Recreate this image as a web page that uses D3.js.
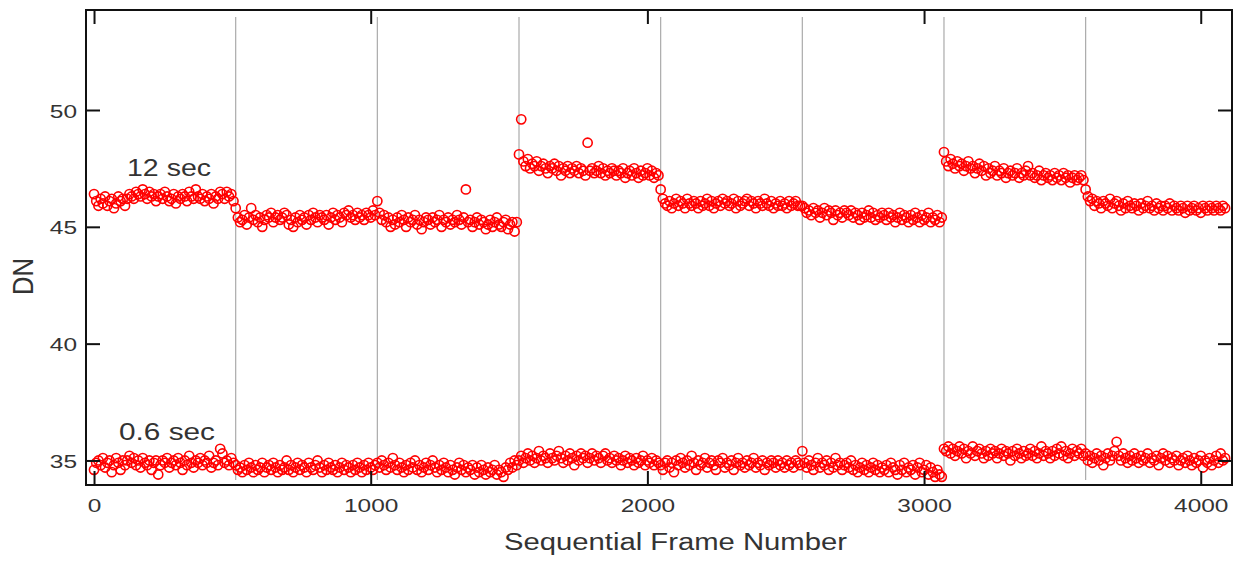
<!DOCTYPE html>
<html>
<head>
<meta charset="utf-8">
<script src="https://cdn.jsdelivr.net/npm/d3@7"></script>
<style>
  body { margin: 0; background: #fff; }
  svg { display: block; }
  text { font-family: "Liberation Sans", Arial, sans-serif; fill: #333; }
</style>
</head>
<body>
<svg class="svg" width="1234" height="563"></svg>
<script>
// frames come in blocks of 512 (one point every 8 frames)
const segLength = 512;
const segStarts = [0, 512, 1024, 1536, 2048, 2560, 3072, 3584];
const xTicks = [0, 1000, 2000, 3000, 4000];
const yTicks = [35, 40, 45, 50];

// 12 sec exposure, one array per 512-frame block
const dn12sec = [
  [46.4,46.1,45.9,46.2,46.0,46.3,45.9,46.1,46.2,45.8,46.0,46.3,46.1,46.2,45.9,46.2,46.4,46.3,46.2,46.5,46.4,46.3,46.6,46.4,46.2,46.5,46.3,46.4,46.1,46.3,46.4,46.2,46.5,46.3,46.1,46.2,46.4,46.0,46.3,46.2,46.4,46.3,46.1,46.5,46.3,46.2,46.6,46.3,46.2,46.4,46.1,46.3,46.2,46.4,46.0,46.3,46.2,46.5,46.4,46.2,46.5,46.3,46.4,46.1],
  [45.8,45.4,45.2,45.3,45.5,45.1,45.4,45.8,45.3,45.5,45.2,45.4,45.0,45.3,45.5,45.4,45.6,45.2,45.4,45.5,45.3,45.4,45.6,45.5,45.1,45.3,45.0,45.4,45.2,45.5,45.3,45.4,45.1,45.5,45.3,45.6,45.4,45.2,45.5,45.4,45.3,45.5,45.1,45.4,45.6,45.3,45.5,45.4,45.2,45.6,45.5,45.7,45.4,45.5,45.3,45.6,45.4,45.5,45.3,45.6,45.5,45.4,45.7,45.5],
  [46.1,45.6,45.3,45.5,45.2,45.4,45.0,45.3,45.1,45.4,45.2,45.5,45.3,45.0,45.4,45.2,45.3,45.5,45.1,45.3,44.9,45.2,45.4,45.3,45.1,45.4,45.2,45.3,45.5,45.0,45.3,45.2,45.4,45.1,45.3,45.2,45.5,45.3,45.1,45.4,46.6,45.2,45.3,45.0,45.2,45.4,45.1,45.3,45.2,44.9,45.1,45.3,45.0,45.2,45.4,45.1,45.0,45.2,45.3,44.9,45.1,45.2,44.8,45.2],
  [48.1,49.6,47.8,47.6,47.9,47.5,47.7,47.6,47.8,47.4,47.6,47.7,47.5,47.3,47.6,47.5,47.7,47.4,47.6,47.2,47.5,47.4,47.6,47.3,47.5,47.4,47.6,47.3,47.5,47.4,47.2,48.6,47.4,47.5,47.3,47.4,47.6,47.3,47.5,47.2,47.4,47.3,47.5,47.4,47.2,47.4,47.3,47.5,47.1,47.3,47.4,47.2,47.5,47.3,47.1,47.4,47.2,47.3,47.5,47.2,47.4,47.1,47.3,47.2],
  [46.6,46.2,46.0,45.9,46.1,45.8,46.0,46.2,45.9,46.1,46.0,45.8,46.2,46.0,45.9,46.1,46.0,45.8,46.1,45.9,46.0,46.2,45.9,46.1,45.8,46.0,46.1,45.9,46.2,46.0,46.1,45.9,46.0,46.2,45.8,46.1,45.9,46.0,46.1,46.2,45.9,46.1,46.0,45.8,46.1,46.0,45.9,46.2,46.0,45.9,46.1,45.8,46.0,45.9,46.1,45.9,46.0,45.8,46.1,45.9,46.0,46.1,45.9,45.9],
  [45.9,45.8,45.6,45.7,45.5,45.8,45.6,45.7,45.4,45.6,45.8,45.5,45.7,45.6,45.3,45.7,45.5,45.6,45.4,45.7,45.6,45.5,45.7,45.4,45.6,45.5,45.3,45.6,45.4,45.5,45.7,45.4,45.6,45.3,45.5,45.4,45.6,45.5,45.3,45.6,45.4,45.5,45.2,45.4,45.6,45.3,45.5,45.4,45.2,45.5,45.3,45.6,45.4,45.2,45.5,45.3,45.4,45.6,45.2,45.4,45.3,45.5,45.2,45.4],
  [48.2,47.8,47.6,47.9,47.7,47.5,47.8,47.6,47.7,47.4,47.6,47.8,47.5,47.6,47.3,47.5,47.7,47.4,47.6,47.2,47.5,47.3,47.4,47.6,47.2,47.4,47.3,47.5,47.1,47.3,47.4,47.2,47.3,47.5,47.1,47.3,47.2,47.4,47.6,47.2,47.3,47.1,47.2,47.4,47.0,47.2,47.3,47.1,47.2,47.0,47.3,47.1,47.2,47.0,47.3,47.1,47.2,46.9,47.1,47.2,47.0,47.1,47.2,47.0],
  [46.6,46.3,46.1,46.2,45.9,46.1,46.0,45.8,46.1,46.0,45.9,46.2,45.8,46.0,46.1,45.9,45.7,46.0,45.8,46.1,45.9,45.8,46.0,45.9,45.7,46.0,45.8,45.9,46.1,45.8,45.9,45.7,46.0,45.8,45.9,45.7,45.9,45.8,46.0,45.7,45.9,45.8,45.7,45.9,45.8,45.6,45.9,45.7,45.8,45.9,45.7,45.8,45.6,45.9,45.8,45.7,45.9,45.8,45.7,45.9,45.8,45.7,45.9,45.8]
];

// 0.6 sec exposure
const dn06sec = [
  [34.6,34.9,35.0,34.8,35.1,34.7,34.9,35.0,34.5,34.8,35.1,34.9,34.6,35.0,34.8,35.0,35.2,34.9,35.1,34.8,35.0,34.7,35.1,34.9,34.8,35.0,34.6,34.9,35.0,34.4,34.8,35.0,34.9,35.1,34.7,34.9,35.0,34.8,35.1,34.9,34.6,35.0,34.8,35.2,34.9,34.7,35.0,34.9,35.1,34.8,35.0,34.9,35.2,34.7,34.9,35.0,34.8,35.5,35.3,34.9,35.0,34.8,35.1,34.9],
  [34.8,34.6,34.7,34.5,34.8,34.6,34.9,34.7,34.5,34.8,34.6,34.7,34.9,34.5,34.7,34.8,34.6,34.9,34.7,34.5,34.8,34.6,34.7,35.0,34.6,34.8,34.5,34.7,34.9,34.6,34.8,34.7,34.5,34.9,34.7,34.6,34.8,35.0,34.7,34.5,34.8,34.6,34.9,34.7,34.6,34.8,34.5,34.7,34.9,34.6,34.8,34.7,34.5,34.8,34.6,34.9,34.7,34.5,34.8,34.6,34.9,34.7,34.6,34.8],
  [34.9,34.7,35.0,34.8,34.6,34.9,34.7,35.1,34.8,34.6,34.9,34.7,34.5,34.8,34.6,34.9,34.7,35.0,34.6,34.8,34.5,34.7,34.9,34.6,34.8,35.0,34.7,34.5,34.8,34.6,34.9,34.7,34.5,34.8,34.6,34.4,34.7,34.9,34.6,34.8,34.5,34.7,34.6,34.8,34.4,34.7,34.5,34.8,34.6,34.4,34.7,34.5,34.6,34.8,34.4,34.6,34.5,34.3,34.7,34.6,34.9,34.7,35.0,34.8],
  [35.0,35.2,34.9,35.1,35.3,35.0,35.2,34.9,35.1,35.4,35.0,35.2,35.1,34.9,35.3,35.1,35.0,35.2,35.4,35.1,34.9,35.2,35.0,35.3,35.1,34.8,35.2,35.0,35.3,35.1,35.2,34.9,35.1,35.3,35.0,35.2,35.1,34.9,35.2,35.3,35.0,35.1,34.9,35.2,35.0,35.1,34.8,35.0,35.2,34.9,35.1,35.0,34.8,35.1,34.9,35.0,35.2,34.8,35.0,34.9,35.1,34.8,35.0,34.9],
  [34.8,34.6,34.9,35.0,34.7,34.9,34.5,35.0,34.8,35.1,34.9,34.7,35.0,34.8,35.2,34.9,34.6,35.0,34.8,34.9,35.1,34.7,34.9,35.0,34.8,34.6,35.0,34.9,35.1,34.7,34.9,34.8,35.0,34.6,34.9,35.1,34.8,34.9,34.7,35.0,34.8,34.9,35.1,34.7,34.9,34.8,35.0,34.6,34.9,34.8,35.0,34.9,34.7,35.0,34.8,34.9,34.7,35.0,34.8,34.9,34.7,35.0,34.9,34.8],
  [35.4,34.9,34.7,35.0,34.8,34.6,34.9,35.1,34.7,34.9,34.8,35.0,34.6,34.9,34.7,35.1,34.8,34.9,34.6,34.8,34.9,34.7,35.0,34.6,34.8,34.5,34.7,34.9,34.6,34.8,34.5,34.7,34.9,34.6,34.8,34.5,34.7,34.6,34.8,34.5,34.9,34.7,34.6,34.4,34.8,34.6,34.9,34.5,34.7,34.6,34.8,34.4,34.7,34.9,34.5,34.6,34.8,34.4,34.7,34.5,34.3,34.6,34.4,34.3],
  [35.5,35.4,35.6,35.3,35.5,35.2,35.4,35.6,35.3,35.5,35.1,35.4,35.3,35.6,35.2,35.4,35.5,35.3,35.1,35.4,35.2,35.5,35.3,35.4,35.1,35.3,35.5,35.2,35.4,35.3,35.0,35.4,35.2,35.5,35.3,35.1,35.4,35.2,35.3,35.5,35.2,35.4,35.1,35.3,35.6,35.2,35.4,35.3,35.1,35.4,35.2,35.5,35.3,35.6,35.2,35.4,35.1,35.3,35.5,35.2,35.4,35.3,35.5,35.2],
  [35.3,35.0,35.2,34.9,35.1,35.3,35.0,35.2,34.8,35.1,35.3,35.0,35.2,35.4,35.8,35.2,35.0,35.3,35.1,34.9,35.2,35.0,35.3,35.1,34.9,35.2,35.0,35.1,35.3,34.9,35.1,35.0,35.2,34.8,35.1,35.3,35.0,35.2,34.9,35.1,35.0,35.2,34.8,35.0,35.1,34.9,35.2,35.0,34.8,35.1,34.9,35.0,35.2,34.7,35.0,34.9,35.1,34.8,35.0,35.2,34.9,35.3,35.0,35.1]
];

function toPoints(blocks) {
  const pts = [];
  blocks.forEach((vals, s) => {
    const step = segLength / vals.length;
    vals.forEach((v, i) => pts.push({ frame: segStarts[s] + i * step, dn: v }));
  });
  return pts;
}

const plotLeft = 86, plotTop = 10, plotRight = 1232, plotBottom = 485;

const svg = d3.select('.svg');

const x = d3.scaleLinear().domain([-29, 4113]).range([plotLeft, plotRight]);
const y = d3.scaleLinear().domain([33.95, 54.28]).range([plotBottom, plotTop]);

// block separators
svg.append('g').selectAll('line')
  .data(segStarts.slice(1))
  .join('line')
  .attr('x1', d => x(d)).attr('x2', d => x(d))
  .attr('y1', plotTop + 7).attr('y2', plotBottom - 5)
  .style('stroke', '#aaa')
  .style('stroke-width', 1.2);

// points
const plot = svg.append('g');
[dn12sec, dn06sec].forEach(blocks => {
  plot.append('g').selectAll('circle')
    .data(toPoints(blocks))
    .join('circle')
    .attr('cx', d => x(d.frame))
    .attr('cy', d => y(d.dn))
    .attr('r', 4.6)
    .style('fill', 'none')
    .style('stroke', '#f00')
    .style('stroke-width', 1.6);
});

// axes, ticks pointing inward on all four sides
function styleAxis(g) {
  g.select('.domain').remove();
  g.selectAll('.tick line').style('stroke', '#111').style('stroke-width', 2);
  g.selectAll('text')
    .style('font-size', '18.5px')
    .style('fill', '#333')
    .attr('textLength', function () { return this.textContent.length * 13.6; })
    .attr('lengthAdjust', 'spacingAndGlyphs');
}

svg.append('g')
  .attr('transform', `translate(0,${plotBottom})`)
  .call(d3.axisBottom(x).tickValues(xTicks).tickSize(-14).tickPadding(14).tickFormat(d3.format('d')))
  .call(styleAxis);

svg.append('g')
  .attr('transform', `translate(0,${plotTop})`)
  .call(d3.axisTop(x).tickValues(xTicks).tickSize(-14).tickFormat(''))
  .call(styleAxis);

svg.append('g')
  .attr('transform', `translate(${plotLeft},0)`)
  .call(d3.axisLeft(y).tickValues(yTicks).tickSize(-14).tickPadding(9).tickFormat(d3.format('d')))
  .call(styleAxis)
  .selectAll('text').attr('dy', '0.38em');

svg.append('g')
  .attr('transform', `translate(${plotRight},0)`)
  .call(d3.axisRight(y).tickValues(yTicks).tickSize(-14).tickFormat(''))
  .call(styleAxis);

// frame
svg.append('rect')
  .attr('x', plotLeft).attr('y', plotTop)
  .attr('width', plotRight - plotLeft).attr('height', plotBottom - plotTop)
  .style('fill', 'none')
  .style('stroke', '#111')
  .style('stroke-width', 2);

// labels
function addText(str, tx, ty, size, len) {
  svg.append('text')
    .attr('x', tx).attr('y', ty)
    .attr('textLength', len)
    .attr('lengthAdjust', 'spacingAndGlyphs')
    .style('font-size', size + 'px')
    .text(str);
}

addText('Sequential Frame Number', 504, 550, 23, 343);
addText('12 sec', 127, 176, 24, 84);
addText('0.6 sec', 119, 440, 24, 96);

svg.append('text')
  .attr('transform', 'translate(33,276.5) scale(1.3,1) rotate(-90)')
  .attr('text-anchor', 'middle')
  .attr('textLength', 37)
  .attr('lengthAdjust', 'spacingAndGlyphs')
  .style('font-size', '22px')
  .text('DN');
</script>
</body>
</html>
